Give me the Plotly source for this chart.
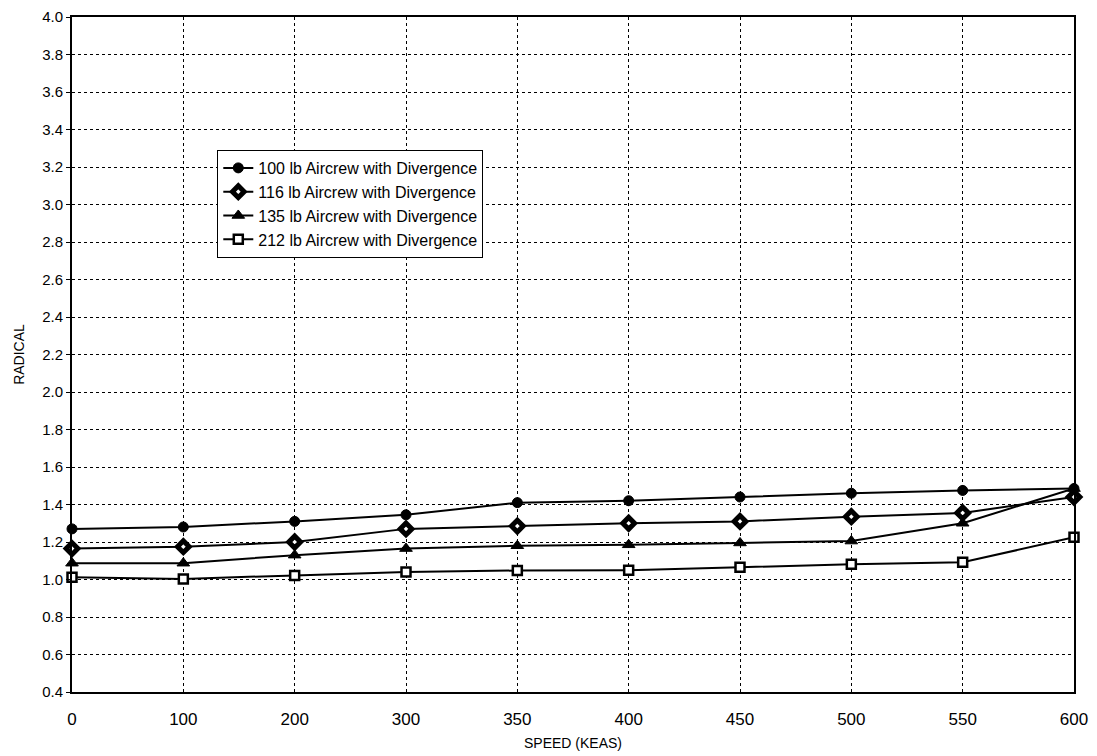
import plotly.graph_objects as go

speeds = ["0", "100", "200", "300", "350", "400", "450", "500", "550", "600"]
lb100 = [1.27, 1.28, 1.31, 1.345, 1.41, 1.42, 1.44, 1.46, 1.475, 1.485]
lb116 = [1.165, 1.175, 1.20, 1.27, 1.285, 1.30, 1.31, 1.335, 1.355, 1.44]
lb135 = [1.087, 1.087, 1.13, 1.165, 1.18, 1.185, 1.195, 1.205, 1.30, 1.485]
lb212 = [1.012, 1.003, 1.022, 1.04, 1.048, 1.05, 1.065, 1.082, 1.092, 1.225]
names = ["100 lb Aircrew with Divergence", "116 lb Aircrew with Divergence",
         "135 lb Aircrew with Divergence", "212 lb Aircrew with Divergence"]
yticks = [round(0.4 + 0.2 * i, 1) for i in range(19)]

xpos = list(range(len(speeds)))

fig = go.Figure()
styles = [
    dict(symbol="circle", size=10, color="black", line=dict(color="black", width=1)),
    dict(symbol="diamond", size=9, color="white", line=dict(color="black", width=5)),
    dict(symbol="triangle-up", size=11, color="black", line=dict(color="black", width=1)),
    dict(symbol="square", size=9, color="white", line=dict(color="black", width=2.5)),
]
for name, vals, st in zip(names, [lb100, lb116, lb135, lb212], styles):
    fig.add_trace(go.Scatter(
        x=xpos, y=vals, name=name, mode="lines+markers",
        line=dict(color="black", width=2),
        marker=st, cliponaxis=False,
    ))

fig.update_layout(
    width=1097, height=756,
    margin=dict(l=72, r=23, t=17, b=64),
    paper_bgcolor="white", plot_bgcolor="white",
    font=dict(family="Liberation Sans, Arial, sans-serif", color="black", size=13),
    showlegend=True,
    legend=dict(
        x=0.145, y=0.803, xanchor="left", yanchor="top",
        bordercolor="black", borderwidth=1, bgcolor="white",
        font=dict(size=16, family="Liberation Sans, Arial, sans-serif"),
        tracegroupgap=0, itemwidth=30,
    ),
)
fig.update_xaxes(
    tickmode="array", tickvals=xpos, ticktext=speeds,
    range=[0, len(speeds) - 1], automargin=False,
    showgrid=True, gridcolor="black", griddash="dot", gridwidth=1,
    showline=True, linecolor="black", linewidth=2, mirror=True,
    ticks="", ticklen=0, ticklabelstandoff=11,
    tickfont=dict(family="Liberation Sans Narrow, Liberation Sans, Arial", size=17),
    title=dict(text="SPEED (KEAS)", font=dict(size=14, family="Liberation Sans Narrow, Liberation Sans, Arial"), standoff=10),
    zeroline=False,
)
fig.update_yaxes(
    tickmode="array", tickvals=yticks, ticktext=[f"{v:.1f}" for v in yticks],
    range=[0.4, 4.0], automargin=False,
    showgrid=True, gridcolor="black", griddash="dot", gridwidth=1,
    showline=True, linecolor="black", linewidth=2, mirror=True,
    ticks="outside", ticklen=4, tickcolor="black",
    tickfont=dict(size=15, family="Liberation Sans, Arial"),
    title=dict(text="RADICAL", font=dict(size=14), standoff=14),
    zeroline=False,
)

fig.write_html("out.html")
